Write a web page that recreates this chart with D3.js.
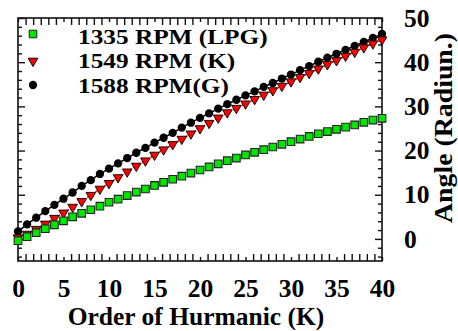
<!DOCTYPE html>
<html>
<head>
<meta charset="utf-8">
<script src="https://cdn.jsdelivr.net/npm/d3@7"></script>
<style>
  body { margin: 0; background: #fff; }
  svg { display: block; }
  text { font-family: "Liberation Serif", "Times New Roman", serif; font-weight: bold; fill: #000; }
</style>
</head>
<body>
<svg id="chart" width="458" height="331"></svg>
<script>
// Harmonic order (x) and phase angle per engine run (y, radians)
const harmonics = [0,1,2,3,4,5,6,7,8,9,10,11,12,13,14,15,16,17,18,19,20,
                   21,22,23,24,25,26,27,28,29,30,31,32,33,34,35,36,37,38,39,40];

const lpg1335 = [-0.4,0.5,1.4,2.3,3.2,4.1,5.0,5.8,6.6,7.4,8.3,9.0,9.8,10.6,11.3,12.1,12.8,13.5,14.2,14.9,15.6,
                 16.3,17.0,17.7,18.3,19.0,19.6,20.2,20.8,21.4,22.0,22.6,23.2,23.8,24.3,24.8,25.3,25.8,26.4,26.9,27.3];

const k1549 = [0.3,1.1,2.2,3.4,4.7,5.9,7.2,8.5,9.9,11.3,12.6,13.9,15.2,16.5,17.7,19.0,20.2,21.4,22.6,23.8,25.0,
               26.2,27.4,28.6,29.6,30.6,31.6,32.6,33.6,34.6,35.6,36.6,37.5,38.5,39.5,40.4,41.4,42.3,43.3,44.2,45.1];

const g1588 = [1.7,3.3,4.8,6.3,7.7,9.1,10.5,12.0,13.3,14.7,15.9,17.1,18.3,19.5,20.6,21.8,22.9,24.0,25.2,26.3,27.4,
               28.4,29.5,30.5,31.5,32.5,33.4,34.4,35.3,36.3,37.2,38.2,39.1,40.1,41.0,41.9,42.8,43.7,44.6,45.5,46.4];

const seriesNames = ["1335 RPM (LPG)", "1549 RPM (K)", "1588 RPM(G)"];
const xTickLabels = [0,5,10,15,20,25,30,35,40];
const yTickLabels = [0,10,20,30,40,50];
const xTitle = "Order of Hurmanic (K)";
const yTitle = "Angle (Radiun.)";

const svg = d3.select("#chart");
const plotL = 18, plotR = 382, plotT = 18, plotB = 261;
const x = d3.scaleLinear().domain([0, 40]).range([plotL, plotR]);
const y = d3.scaleLinear().domain([-5, 50]).range([plotB, plotT]);

const FONT = 25.5;

// x ticks: fine ticks every 5/6 unit, the labelled positions get short ticks
const xFine = d3.range(0, 49).map(i => i * 5 / 6).filter(v => Math.abs(v / 5 - Math.round(v / 5)) > 1e-6);
const yFine = d3.range(-4, 51, 2).filter(v => v % 10 !== 0);
const yMajor = yTickLabels;

function styleAxis(g) {
  g.select(".domain").remove();
  g.selectAll("line").attr("stroke", "#111").attr("stroke-width", 1.4);
}

// bottom
svg.append("g").attr("transform", `translate(0,${plotB})`)
  .call(d3.axisBottom(x).tickValues(xFine).tickSizeInner(-7).tickSizeOuter(0).tickFormat(""))
  .call(styleAxis);
svg.append("g").attr("transform", `translate(0,${plotB})`)
  .call(d3.axisBottom(x).tickValues(xTickLabels).tickSizeInner(-4).tickSizeOuter(0).tickPadding(0))
  .call(styleAxis)
  .call(g => g.selectAll("text").attr("font-size", FONT).attr("dy", null).attr("y", 35.5));
// top
svg.append("g").attr("transform", `translate(0,${plotT})`)
  .call(d3.axisTop(x).tickValues(xFine).tickSizeInner(-7).tickSizeOuter(0).tickFormat(""))
  .call(styleAxis);
svg.append("g").attr("transform", `translate(0,${plotT})`)
  .call(d3.axisTop(x).tickValues(xTickLabels).tickSizeInner(-4).tickSizeOuter(0).tickFormat(""))
  .call(styleAxis);
// left
svg.append("g").attr("transform", `translate(${plotL},0)`)
  .call(d3.axisLeft(y).tickValues(yFine).tickSizeInner(-4).tickSizeOuter(0).tickFormat(""))
  .call(styleAxis);
svg.append("g").attr("transform", `translate(${plotL},0)`)
  .call(d3.axisLeft(y).tickValues(yMajor).tickSizeInner(-7).tickSizeOuter(0).tickFormat(""))
  .call(styleAxis);
// right, with labels
svg.append("g").attr("transform", `translate(${plotR},0)`)
  .call(d3.axisRight(y).tickValues(yFine).tickSizeInner(-4).tickSizeOuter(0).tickFormat(""))
  .call(styleAxis);
svg.append("g").attr("transform", `translate(${plotR},0)`)
  .call(d3.axisRight(y).tickValues(yMajor).tickSizeInner(-7).tickSizeOuter(0).tickPadding(22))
  .call(styleAxis)
  .call(g => g.selectAll("text").attr("font-size", FONT));

// frame
svg.append("rect").attr("x", plotL).attr("y", plotT)
  .attr("width", plotR - plotL).attr("height", plotB - plotT)
  .attr("fill", "none").attr("stroke", "#111").attr("stroke-width", 1.6);

// titles
svg.append("text").attr("x", 196).attr("y", 324.5).attr("text-anchor", "middle")
  .attr("font-size", FONT).text(xTitle);
svg.append("text").attr("transform", "translate(452,128) rotate(-90) scale(1.07,1)")
  .attr("text-anchor", "middle").attr("font-size", 26).text(yTitle);

// series
const pts = vals => harmonics.map((h, i) => [h, vals[i]]);
const line = d3.line().x(d => x(d[0])).y(d => y(d[1]));

const sq = d3.symbol(d3.symbolSquare, 58)();
const tri = d3.symbol(d3.symbolTriangle, 40)();
const circ = d3.symbol(d3.symbolCircle, 54)();

// 1588 RPM (G): black line + circles
svg.append("path").datum(pts(g1588)).attr("d", line)
  .attr("fill", "none").attr("stroke", "#000").attr("stroke-width", 1.5);
svg.append("g").selectAll("path").data(pts(g1588)).join("path")
  .attr("d", circ).attr("transform", d => `translate(${x(d[0])},${y(d[1])})`)
  .attr("fill", "#000");

// 1549 RPM (K): red dashed line + down triangles
svg.append("path").datum(pts(k1549)).attr("d", line)
  .attr("fill", "none").attr("stroke", "#f00").attr("stroke-width", 1.5).attr("stroke-dasharray", "3,2");
svg.append("g").selectAll("path").data(pts(k1549)).join("path")
  .attr("d", tri).attr("transform", d => `translate(${x(d[0])},${y(d[1])}) rotate(180)`)
  .attr("fill", "#f00").attr("stroke", "#000").attr("stroke-width", 0.9);

// 1335 RPM (LPG): green squares
svg.append("g").selectAll("path").data(pts(lpg1335)).join("path")
  .attr("d", sq).attr("transform", d => `translate(${x(d[0])},${y(d[1])})`)
  .attr("fill", "#00e600").attr("stroke", "#222").attr("stroke-width", 1.1);

// legend: compact rows, text widened slightly
const legend = svg.append("g");
const legendRows = [
  { name: seriesNames[0], sym: sq, fill: "#00e600", stroke: "#222", rot: 0, cy: 34, base: 44 },
  { name: seriesNames[1], sym: tri, fill: "#f00", stroke: "#000", rot: 180, cy: 61, base: 68.4 },
  { name: seriesNames[2], sym: circ, fill: "#000", stroke: "none", rot: 0, cy: 85, base: 92.8 }
];
legendRows.forEach(r => {
  legend.append("path").attr("d", r.sym)
    .attr("transform", `translate(33,${r.cy}) rotate(${r.rot})`)
    .attr("fill", r.fill).attr("stroke", r.stroke).attr("stroke-width", 1);
  legend.append("text").attr("transform", `translate(78,${r.base}) scale(1.15,1)`)
    .attr("font-size", 22).text(r.name);
});
</script>
</body>
</html>
